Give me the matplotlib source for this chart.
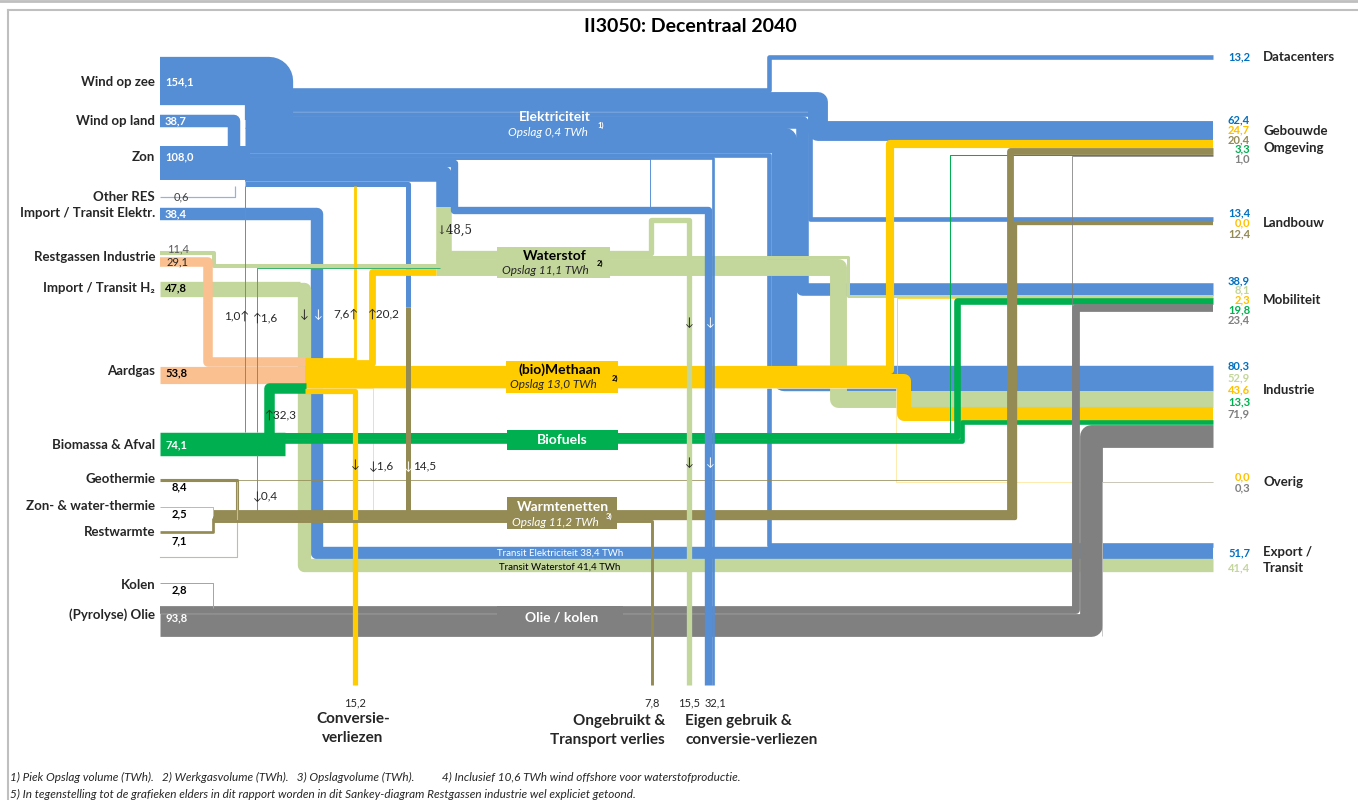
import numpy as np
import matplotlib.pyplot as plt
from matplotlib.lines import Line2D
from matplotlib.patches import Rectangle

plt.rcParams['font.family'] = ['Lato', 'DejaVu Sans']

# ---------------- data (TWh) ----------------
src_labels = ['Wind op zee', 'Wind op land', 'Zon', 'Other RES', 'Import / Transit Elektr.',
              'Restgassen Industrie', 'Import / Transit H₂', 'Aardgas', 'Biomassa & Afval',
              'Geothermie', 'Zon- & water-thermie', 'Restwarmte', 'Kolen', '(Pyrolyse) Olie']
src_values = [154.1, 38.7, 108.0, 0.6, 38.4, 29.1, 47.8, 53.8, 74.1, 8.4, 2.5, 7.1, 2.8, 93.8]
restgas_h2 = 11.4
transit_h2 = 41.4

# conversions between carriers
bio_gas, bio_elek, bio_h2, bio_heat = 32.3, 1.0, 1.6, 0.4
gas_elek, gas_h2, gas_heat = 7.6, 20.2, 1.6
elek_h2, elek_heat = 48.5, 14.5
geo_direct = 2.5

# losses / own use (bottom)
gas_loss = 15.2
heat_loss = 7.8
h2_own = 15.5
elek_own = 32.1
own_direct, own_650, own_low = 7.0, 3.0, 22.1   # parts of elek_own

# storage (labels)
storage = {'elek': 0.4, 'h2': 11.1, 'gas': 13.0, 'heat': 11.2}

# end use
sectors = ['Datacenters', 'Gebouwde\nOmgeving', 'Landbouw', 'Mobiliteit', 'Industrie', 'Overig', 'Export /\nTransit']
carriers = ['elek', 'h2', 'gas', 'heat', 'bio', 'oil']
use_elek = [13.2, 62.4, 13.4, 38.9, 80.3, np.nan, 51.7]
use_h2 = [np.nan, np.nan, np.nan, 8.1, 52.9, np.nan, 41.4]
use_gas = [np.nan, 24.7, 0.0, 2.3, 43.6, 0.0, np.nan]
use_heat = [np.nan, 20.4, 12.4, np.nan, np.nan, np.nan, np.nan]
use_bio = [np.nan, 3.3, np.nan, 19.8, 13.3, np.nan, np.nan]
use_oil = [np.nan, 1.0, np.nan, 23.4, 71.9, 0.3, np.nan]

# ---------------- layout ----------------
DPI = 100
S = 0.31          # px per TWh
X_SRC, X_END, Y_LOSS = 160, 1213, 685
BUS_TOP, GAS_TOP, H2_TOP, WARM_TOP, OIL_TOP, BIO_TOP = 88, 357.5, 251, 510, 606.5, 432
sector_top = [55, 121, 217, 283, 365.5, 482, 543]
sector_name_y = [57, 139.5, 223, 300, 390, 482, 560]
sector_lab_gap = [10, 9.8, 10.5, 9.8, 12, 11, 15]
src_y = [82, 121, 157, 197, 213, 257, 288, 371, 445, 479, 506, 532, 585, 615]

BLUE, LGREEN, YELLOW, PEACH = '#558ED5', '#C3D69B', '#FFCC00', '#FAC090'
GREEN, OLIVE, GRAY = '#00B050', '#948A54', '#808080'
txtcol = {'elek': '#0070C0', 'h2': '#C3D69B', 'gas': '#FFC000', 'heat': '#948A54',
          'bio': '#00B050', 'oil': '#808080'}
Z = {'blue': 1, 'lg': 2, 'peach': 2.5, 'yellow': 3, 'green': 4, 'olive': 5, 'gray': 6, 'loss': 7}

fmt = lambda v: f'{v:.1f}'.replace('.', ',')
W = lambda v: v * S

fig = plt.figure(figsize=(13.58, 8.0), dpi=DPI)
ax = fig.add_axes([0, 0, 1, 1])
ax.set_xlim(0, 1358)
ax.set_ylim(800, 0)
ax.axis('off')


def flow(pts, v, color, z, minw=0.0):
    w = max(W(v), minw)
    if w >= 2:
        w += 0.5          # slight overlap, hides seams between stacked bands
    xs, ys = zip(*pts)
    ax.add_line(Line2D(xs, ys, lw=w * 72 / DPI, color=color, solid_joinstyle='round',
                       solid_capstyle='butt', zorder=z))


def centers(top, vals):
    out, y = [], top
    for v in vals:
        out.append(y + W(v) / 2)
        y += W(v)
    return out


def txt(x, y, s, **kw):
    kw.setdefault('va', 'center')
    ax.text(x, y, s, **kw)


# right side stacks
use = {'elek': use_elek, 'h2': use_h2, 'gas': use_gas, 'heat': use_heat, 'bio': use_bio, 'oil': use_oil}
rc = {c: [np.nan] * len(sectors) for c in carriers}
for i, top in enumerate(sector_top):
    y = top
    for c in carriers:
        v = use[c][i]
        if np.isnan(v):
            continue
        rc[c][i] = y + W(v) / 2
        y += W(v)

imp_elek = src_values[4]
exp13 = use_elek[6] - imp_elek
y_exp13 = sector_top[6] + W(exp13) / 2
y_tre = sector_top[6] + W(exp13) + W(imp_elek) / 2

# ---------------- electricity ----------------
bus_vals = [use_elek[0], use_elek[1], use_elek[2], use_elek[3], use_elek[4], exp13,
            own_direct, own_650, own_low, elek_h2, elek_heat]
bc = centers(BUS_TOP, bus_vals)
bus_bottom = BUS_TOP + W(sum(bus_vals))
zb = Z['blue']

flow([(X_SRC, 81), (269, 81), (269, 120)], src_values[0], BLUE, zb)
flow([(X_SRC, 121), (234, 121), (234, 150)], src_values[1], BLUE, zb)
flow([(X_SRC, 163), (250, 163)], src_values[2], BLUE, zb)
flow([(X_SRC, 197), (235, 197), (235, bus_bottom)], src_values[3], '#8DB4E2', zb, 1.2)

xl = 767
x_dc = xl + W(use_elek[0]) / 2
x_exp = xl + W(exp13) / 2
x_ind = xl + W(exp13) + W(use_elek[4]) / 2
x_mob = xl + W(exp13) + W(use_elek[4]) + W(use_elek[3]) / 2
x_land = xl + W(exp13) + W(use_elek[4]) + W(use_elek[3]) + W(use_elek[2]) / 2
x_geb = 808.5 + W(use_elek[1]) / 2
for k, (xv, i) in enumerate([(x_dc, 0), (x_geb, 1), (x_land, 2), (x_mob, 3), (x_ind, 4)]):
    flow([(245, bc[k]), (xv, bc[k]), (xv, rc['elek'][i]), (X_END, rc['elek'][i])], use_elek[i], BLUE, zb)
flow([(245, bc[5]), (x_exp, bc[5]), (x_exp, y_exp13), (X_END, y_exp13)], exp13, BLUE, zb)

x_od = 705 + W(own_low) + W(own_direct) / 2
flow([(245, bc[6]), (x_od, bc[6]), (x_od, Y_LOSS)], own_direct, BLUE, Z['loss'])
flow([(245, bc[7]), (650, bc[7]), (650, 210)], own_650, BLUE, zb)
x_low1 = 436 + W(elek_h2) + W(own_low) / 2
x_low2 = 705 + W(own_low) / 2
flow([(245, bc[8]), (x_low1, bc[8]), (x_low1, 210), (x_low2, 210), (x_low2, Y_LOSS)], own_low, BLUE, Z['loss'])
x_el = 436 + W(elek_h2) / 2
flow([(245, bc[9]), (x_el, bc[9]), (x_el, 207)], elek_h2, BLUE, zb)
flow([(245, bc[10]), (408, bc[10]), (408, 307)], elek_heat, BLUE, zb)

# import electricity -> transit
flow([(X_SRC, 214), (317, 214), (317, y_tre), (X_END, y_tre)], imp_elek, BLUE, zb)

# ---------------- hydrogen ----------------
zl = Z['lg']
hc = centers(H2_TOP, [h2_own, use_h2[3], use_h2[4]])
x_h2ind = 830 + W(use_h2[4]) / 2
x_h2mob = 830 + W(use_h2[4]) + W(use_h2[3]) / 2
flow([(436, hc[0]), (651, hc[0]), (651, 220), (689, 220), (689, Y_LOSS)], h2_own, LGREEN, Z['loss'])
flow([(436, hc[1]), (x_h2mob, hc[1]), (x_h2mob, rc['h2'][3]), (X_END, rc['h2'][3])], use_h2[3], LGREEN, zl)
flow([(436, hc[2]), (x_h2ind, hc[2]), (x_h2ind, rc['h2'][4]), (X_END, rc['h2'][4])], use_h2[4], LGREEN, zl)
flow([(x_el, 207), (x_el, 262), (460, 262)], elek_h2, LGREEN, zl)
flow([(X_SRC, 253), (214, 253), (214, 266), (440, 266)], restgas_h2, LGREEN, zl)
y_trh = sector_top[6] + W(use_elek[6]) + W(transit_h2) / 2
flow([(X_SRC, 288.5), (300, 288.5)], src_values[6], LGREEN, zl)
flow([(250, 288.5), (304, 288.5), (304, y_trh), (X_END, y_trh)], transit_h2, LGREEN, zl)

# ---------------- gas ----------------
zy = Z['yellow']
gin = centers(GAS_TOP, [src_values[5], src_values[7], bio_gas])
flow([(X_SRC, 261.5), (208, 261.5), (208, gin[0]), (306, gin[0])], src_values[5], PEACH, Z['peach'])
flow([(X_SRC, gin[1]), (306, gin[1])], src_values[7], PEACH, Z['peach'])
flow([(269, 443.5), (269, gin[2]), (306, gin[2])], bio_gas, GREEN, Z['green'])

gc = centers(GAS_TOP, [gas_elek, gas_h2, use_gas[1], use_gas[3], use_gas[4], use_gas[5], gas_heat, gas_loss])
flow([(305, gc[0]), (355, gc[0]), (355, bus_bottom)], gas_elek, YELLOW, zy)
flow([(305, gc[1]), (372, gc[1]), (372, 272), (436, 272)], gas_h2, YELLOW, zy)
flow([(305, gc[2]), (890, gc[2]), (890, rc['gas'][1]), (X_END, rc['gas'][1])], use_gas[1], YELLOW, zy)
flow([(305, gc[3]), (897, gc[3]), (897, rc['gas'][3]), (X_END, rc['gas'][3])], use_gas[3], YELLOW, zy)
x_gind = 897 + W(use_gas[4]) / 2
flow([(305, gc[4]), (x_gind, gc[4]), (x_gind, rc['gas'][4]), (X_END, rc['gas'][4])], use_gas[4], YELLOW, zy)
flow([(305, gc[5]), (896, gc[5]), (896, rc['gas'][5]), (X_END, rc['gas'][5])], use_gas[5], '#FFE699', zy, 0.8)
flow([(305, gc[6]), (373, gc[6]), (373, 512), (410, 512)], gas_heat, '#FFD966', zy, 0.8)
flow([(305, gc[7]), (355, gc[7]), (355, Y_LOSS)], gas_loss, YELLOW, Z['loss'])

# ---------------- biomass / biofuels ----------------
zg = Z['green']
flow([(X_SRC, 443.5), (285, 443.5)], src_values[8], GREEN, zg)
fc = centers(BIO_TOP, [use_bio[1], use_bio[3], use_bio[4]])
xb = 949.5
x_bgeb = xb + W(use_bio[1]) / 2
x_bmob = xb + W(use_bio[1]) + 3 + W(use_bio[3]) / 2
x_bind = xb + W(use_bio[1]) + 3 + W(use_bio[3]) + W(use_bio[4]) / 2
for k, (xv, i) in enumerate([(x_bgeb, 1), (x_bmob, 3), (x_bind, 4)]):
    flow([(278, fc[k]), (xv, fc[k]), (xv, rc['bio'][i]), (X_END, rc['bio'][i])], use_bio[i], GREEN, zg)
thin_g = '#3CB371'
flow([(245, 432), (245, bus_bottom)], bio_elek, thin_g, 4.5, 1.0)
flow([(257, 432), (257, 268), (440, 268)], bio_h2, thin_g, 4.5, 1.0)
flow([(257, 455), (257, 514)], bio_heat, thin_g, 4.5, 1.0)

# ---------------- heat ----------------
zo = Z['olive']
wc = centers(WARM_TOP, [use_heat[1], use_heat[2], heat_loss])
x_hgeb = 1006.5 + W(use_heat[1]) / 2
x_hland = 1006.5 + W(use_heat[1]) + W(use_heat[2]) / 2
flow([(213, wc[0]), (x_hgeb, wc[0]), (x_hgeb, rc['heat'][1]), (X_END, rc['heat'][1])], use_heat[1], OLIVE, zo)
flow([(213, wc[1]), (x_hland, wc[1]), (x_hland, rc['heat'][2]), (X_END, rc['heat'][2])], use_heat[2], OLIVE, zo)
flow([(213, wc[2]), (652, wc[2]), (652, Y_LOSS)], heat_loss, OLIVE, Z['loss'])
flow([(X_SRC, 480), (237, 480), (237, 514)], src_values[9], OLIVE, zo)
flow([(237, 480), (1008, 480)], geo_direct, OLIVE, zo)
flow([(X_SRC, 507), (213, 507), (213, 516)], src_values[10], '#C4BD97', zo, 1.0)
flow([(X_SRC, 532), (213, 532), (213, 518)], src_values[11], OLIVE, zo)
ax.plot([X_SRC, 237, 237], [557, 557, 482], color='#C4BD97', lw=0.8, zorder=zo)
flow([(408, 307), (408, 514)], elek_heat, OLIVE, zo)

# ---------------- oil / coal ----------------
zgr = Z['gray']
oc = centers(OIL_TOP, [use_oil[1], use_oil[3], use_oil[4], use_oil[5]])
xo = 1072
x_ogeb = xo + W(use_oil[1]) / 2
x_omob = xo + W(use_oil[1]) + W(use_oil[3]) / 2
x_oind = xo + W(use_oil[1]) + W(use_oil[3]) + W(use_oil[4]) / 2
x_oov = xo + W(use_oil[1]) + W(use_oil[3]) + W(use_oil[4])
for k, (xv, i) in enumerate([(x_ogeb, 1), (x_omob, 3), (x_oind, 4)]):
    flow([(X_SRC, oc[k]), (xv, oc[k]), (xv, rc['oil'][i]), (X_END, rc['oil'][i])], use_oil[i], GRAY, zgr, 0.8)
flow([(x_oov, oc[3]), (x_oov, rc['oil'][5]), (X_END, rc['oil'][5])], use_oil[5], '#BFBFBF', zgr, 0.8)
flow([(X_SRC, 583), (213, 583), (213, 608)], src_values[12], '#A6A6A6', zgr, 1.0)

# ---------------- node label boxes ----------------
boxes = [((497, 247), 113, 31, LGREEN, zl), ((506, 361), 112, 32, YELLOW, zy), ((507, 430), 111, 20, GREEN, zg),
         ((507, 497), 110, 32, OLIVE, zo), ((497, 606), 126, 30, GRAY, zgr)]
for xy, bw, bh, col, z in boxes:
    ax.add_patch(Rectangle(xy, bw, bh, facecolor=col, edgecolor='none', zorder=z + 0.1))

bold = dict(fontweight='bold', fontsize=10)
ital = dict(fontstyle='italic', fontsize=8.5)
txt(555, 117, 'Elektriciteit', ha='center', color='white', zorder=9, **bold)
txt(548, 132, f"Opslag {fmt(storage['elek'])} TWh", ha='center', color='white', zorder=9, **ital)
txt(598, 125, '1)', ha='left', color='white', fontsize=5.5, fontweight='bold', zorder=9)
txt(555, 256, 'Waterstof', ha='center', color='black', zorder=9, **bold)
txt(545, 271, f"Opslag {fmt(storage['h2'])} TWh", ha='center', color='#262626', zorder=9, **ital)
txt(597, 263, '2)', ha='left', color='black', fontsize=5.5, fontweight='bold', zorder=9)
txt(560, 370, '(bio)Methaan', ha='center', color='black', zorder=9, **bold)
txt(553, 384, f"Opslag {fmt(storage['gas'])} TWh", ha='center', color='#262626', zorder=9, **ital)
txt(612, 378, '2)', ha='left', color='black', fontsize=5.5, fontweight='bold', zorder=9)
txt(562, 440, 'Biofuels', ha='center', color='white', zorder=9, **bold)
txt(563, 507, 'Warmtenetten', ha='center', color='white', zorder=9, **bold)
txt(555, 522, f"Opslag {fmt(storage['heat'])} TWh", ha='center', color='white', zorder=9, **ital)
txt(606, 516, '3)', ha='left', color='white', fontsize=5.5, fontweight='bold', zorder=9)
txt(562, 617, 'Olie / kolen', ha='center', color='white', zorder=9, **bold)
txt(560, 553, f'Transit Elektriciteit {fmt(imp_elek)} TWh', ha='center', color='white', fontsize=7, zorder=9)
txt(560, 567, f'Transit Waterstof {fmt(transit_h2)} TWh', ha='center', color='black', fontsize=7, zorder=9)

# ---------------- source labels ----------------
for name, y in zip(src_labels, src_y):
    txt(155, y, name, ha='right', color='#262626', fontsize=9.5, fontweight='bold')
src_val_style = [('white', 'bold', 165), ('white', 'bold', 165), ('white', 'bold', 165), ('#404040', 'normal', 174),
                 ('white', 'bold', 165), ('#262626', 'normal', 167), ('black', 'bold', 165), ('black', 'bold', 165),
                 ('white', 'bold', 165), ('black', 'bold', 172), ('black', 'bold', 172), ('black', 'bold', 172),
                 ('black', 'bold', 172), ('white', 'bold', 165)]
src_val_y = [82, 121, 157, 197, 214, 262, 288, 373, 445, 487, 514, 541, 590, 618]
for v, y, (col, wt, x) in zip(src_values, src_val_y, src_val_style):
    txt(x, y, fmt(v), ha='left', color=col, fontweight=wt, fontsize=8, zorder=9)
txt(167, 249, fmt(restgas_h2), ha='left', color='#595959', fontsize=8, zorder=9)

# ---------------- sector labels ----------------
for i, name in enumerate(sectors):
    vals = [(c, use[c][i]) for c in carriers if not np.isnan(use[c][i])]
    n = len(vals)
    for k, (c, v) in enumerate(vals):
        y = sector_name_y[i] + (k - (n - 1) / 2) * sector_lab_gap[i]
        txt(1250, y, fmt(v), ha='right', color=txtcol[c], fontweight='bold', fontsize=8)
    txt(1263, sector_name_y[i], name, ha='left', color='#262626', fontsize=9.5, fontweight='bold',
        linespacing=1.45)

# ---------------- arrows ----------------
dark = '#262626'
arrows = [(436, 230, '↓' + fmt(elek_h2), dark, 'left', 'DejaVu Serif'),
          (249, 316, fmt(bio_elek) + '↑', dark, 'right', None),
          (253, 318, '↑' + fmt(bio_h2), dark, 'left', None),
          (304, 314, '↓', dark, 'center', None), (318, 314, '↓', 'white', 'center', None),
          (359, 314, fmt(gas_elek) + '↑', dark, 'right', None),
          (368, 314, '↑' + fmt(gas_h2), dark, 'left', None),
          (265, 415, '↑' + fmt(bio_gas), dark, 'left', None),
          (355, 465, '↓', dark, 'center', None),
          (369, 466, '↓' + fmt(gas_heat), dark, 'left', None),
          (408, 466, '↓', 'white', 'center', None),
          (413, 466, fmt(elek_heat), dark, 'left', None),
          (253, 496, '↓' + fmt(bio_heat), dark, 'left', None),
          (689, 322, '↓', dark, 'center', None), (689, 463, '↓', dark, 'center', None),
          (710, 322, '↓', 'white', 'center', None), (710, 463, '↓', 'white', 'center', None)]
for x, y, s, col, ha, fam in arrows:
    kw = dict(family=[fam, 'DejaVu Sans']) if fam else {}
    txt(x, y, s, ha=ha, color=col, fontsize=8.5, zorder=9, **kw)

# ---------------- bottom ----------------
for x, v in [(355, gas_loss), (652, heat_loss), (689, h2_own), (715, elek_own)]:
    txt(x, 703, fmt(v), ha='center', color=dark, fontsize=8)
big = dict(fontsize=11, fontweight='bold', color='#262626', linespacing=1.45, va='top')
ax.text(353, 712, 'Conversie-\nverliezen', ha='center', **big)
ax.text(665, 714, 'Ongebruikt &\nTransport verlies', ha='right', multialignment='right', **big)
ax.text(685, 714, 'Eigen gebruik &\nconversie-verliezen', ha='left', **big)

foot = dict(fontsize=8.5, fontstyle='italic', color='#262626', ha='left')
txt(10, 777, '1) Piek Opslag volume (TWh).   2) Werkgasvolume (TWh).   3) Opslagvolume (TWh).          '
             '4) Inclusief 10,6 TWh wind offshore voor waterstofproductie.', **foot)
txt(10, 794, '5) In tegenstelling tot de grafieken elders in dit rapport worden in dit Sankey-diagram '
             'Restgassen industrie wel expliciet getoond.', **foot)

txt(690, 27, 'II3050: Decentraal 2040', ha='center', fontsize=14, fontweight='bold', color='black')
ax.plot([8, 8], [10, 800], color='#BFBFBF', lw=1.5)
ax.plot([8, 1358], [10, 10], color='#BFBFBF', lw=1.5)
ax.plot([0, 1358], [1, 1], color='#BFBFBF', lw=2)

fig.savefig('out.png', dpi=DPI)
